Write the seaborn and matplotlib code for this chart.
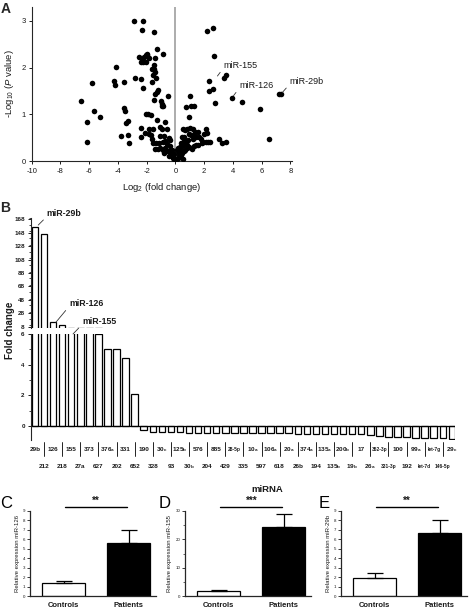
import pandas as pd
import seaborn as sns
from matplotlib import pyplot as plt
from matplotlib.ticker import MultipleLocator

# ---- panel A: volcano plot ----
log2_fc = [-2.89, -2.22, -2.33, -1.52, -1.25, -2.00, -2.07, -1.95, -0.88, -2.50,
           -2.34, -2.18, -1.85, -1.43, -2.40, -2.22, -2.05, -1.50, -4.12, -1.60,
           -1.52, -1.45, -5.77, -4.27, -4.20, -3.58, -2.84, -2.38, -2.26, -1.34,
           -1.62, -1.55, -1.18, -1.30, -1.40, -1.50, -1.00, -0.95, -0.90, -0.85,
           -0.50, -6.58, -5.66, -5.22, -3.58, -3.53, -6.12, -3.33, -3.42, -2.03,
           -1.87, -1.69, -1.27, -0.69, -2.38, -1.85, -1.57, -1.04, -0.90, -0.55,
           -3.76, -3.30, -2.42, -1.85, -1.69, -1.10, -0.78, -3.26, -6.17, -1.53,
           -1.34, -1.11, -0.88, -0.72, -0.42, -0.37, -1.39, -1.22, -1.04, -0.88,
           -0.72, -0.65, -0.53, -0.42, -0.76, -0.30, -0.23, -0.18, -0.14, -0.07,
           -0.02, -0.35, -0.58, -1.60, -2.10, -0.25, -0.12, -0.45,
           2.17, 2.59, 2.66, 3.51, 3.39, 2.33, 2.63, 2.33, 2.75, 3.97,
           4.67, 5.89, 7.20, 7.34, 6.51, 1.04, 0.76, 1.08, 1.32, 0.97,
           0.55, 0.69, 0.83, 1.02, 1.20, 1.39, 1.57, 2.12, 2.22, 0.44,
           0.62, 0.92, 1.09, 1.32, 1.44, 1.67, 1.78, 1.95, 2.24, 2.40,
           3.05, 3.28, 3.51, 1.55, 1.85, 2.13, 1.16, 1.32, 1.44, 0.97,
           0.81, 0.12, 0.21, 0.32, 0.46, 0.55, 0.74, 0.39, 0.30, 0.37,
           0.48, 0.58, 0.65, 0.05, 0.10, 0.16, 0.22, 0.28, 0.42, 0.60,
           2.00, 0.90, 1.20, 0.50, 0.80]
neg_log10_p = [3.00, 3.00, 2.81, 2.76, 2.39, 2.30, 2.27, 2.27, 2.29, 2.22,
               2.18, 2.22, 2.20, 2.20, 2.12, 2.12, 2.12, 2.05, 2.02, 1.96,
               1.96, 1.91, 1.68, 1.72, 1.63, 1.70, 1.78, 1.76, 1.57, 1.77,
               1.70, 1.84, 1.53, 1.48, 1.44, 1.30, 1.28, 1.23, 1.19, 1.17,
               1.40, 1.28, 1.08, 0.95, 1.13, 1.07, 0.84, 0.86, 0.81, 1.02,
               1.00, 0.99, 0.88, 0.83, 0.72, 0.70, 0.70, 0.74, 0.70, 0.70,
               0.54, 0.56, 0.51, 0.58, 0.56, 0.53, 0.54, 0.40, 0.42, 0.39,
               0.39, 0.40, 0.42, 0.44, 0.49, 0.46, 0.26, 0.26, 0.28, 0.24,
               0.28, 0.21, 0.21, 0.21, 0.17, 0.17, 0.13, 0.10, 0.06, 0.04,
               0.03, 0.32, 0.36, 0.48, 0.60, 0.24, 0.15, 0.12,
               2.79, 2.84, 2.25, 1.84, 1.78, 1.72, 1.54, 1.49, 1.25, 1.36,
               1.26, 1.11, 1.43, 1.43, 0.48, 1.39, 1.15, 1.18, 1.18, 0.94,
               0.70, 0.66, 0.70, 0.72, 0.70, 0.62, 0.63, 0.69, 0.61, 0.52,
               0.51, 0.58, 0.56, 0.54, 0.52, 0.52, 0.47, 0.42, 0.42, 0.42,
               0.48, 0.38, 0.41, 0.34, 0.38, 0.42, 0.26, 0.33, 0.35, 0.31,
               0.35, 0.24, 0.28, 0.31, 0.33, 0.35, 0.38, 0.40, 0.10, 0.14,
               0.17, 0.21, 0.25, 0.02, 0.05, 0.08, 0.12, 0.17, 0.23, 0.44,
               0.58, 0.45, 0.48, 0.05, 0.28]

# ---- panel B: fold change per miRNA ----
mirna = ['29b', '212', '126', '218', '155', '27a', '373', '627', '376a', '202',
         '331', '652', '190', '328', '30c', '93', '125b', '30b', '576', '204',
         '885', '429', '28-5p', '335', '10a', '597', '106a', '618', '20a', '26b',
         '374a', '194', '135a', '135b', '200b', '19b', '17', '26a', '362-3p', '331-3p',
         '100', '192', '99a', 'let-7d', 'let-7g', '146-5p', '29c']
fold_change = [157, 145.5, 14.5, 10, 6.5, 6.4, 6.2, 6.0, 5.0, 5.0,
               4.4, 2.05, -0.30, -0.40, -0.42, -0.42, -0.43, -0.44, -0.45, -0.45,
               -0.46, -0.46, -0.47, -0.47, -0.48, -0.48, -0.48, -0.49, -0.49, -0.50,
               -0.50, -0.51, -0.52, -0.52, -0.53, -0.54, -0.55, -0.58, -0.65, -0.70,
               -0.72, -0.75, -0.76, -0.78, -0.80, -0.82, -0.85]
mirna_text = ['29b', '212', '126', '218', '155', '27a', '373', '627', r'376$_\mathregular{a}$', '202',
              '331', '652', '190', '328', r'30$_\mathregular{c}$', '93', r'125$_\mathregular{b}$', r'30$_\mathregular{b}$', '576', '204',
              '885', '429', '28-5p', '335', r'10$_\mathregular{a}$', '597', r'106$_\mathregular{a}$', '618', r'20$_\mathregular{a}$', '26b',
              r'374$_\mathregular{a}$', '194', r'135$_\mathregular{a}$', r'135$_\mathregular{b}$', r'200$_\mathregular{b}$', r'19$_\mathregular{b}$', '17', r'26$_\mathregular{a}$', '362-3p', '331-3p',
              '100', '192', r'99$_\mathregular{a}$', 'let-7d', 'let-7g', '146-5p', r'29$_\mathregular{c}$']
small_labels = ['362-3p', '331-3p', 'let-7g', 'let-7d', '28-5p', '146-5p']

# ---- panels C-E: relative expression ----
groups = ['Controls', 'Patients']
mir126_mean = [1.33, 5.6]
mir126_sem = [0.24, 1.4]
mir155_mean = [1.74, 24.5]
mir155_sem = [0.36, 4.6]
mir29b_mean = [1.92, 6.7]
mir29b_sem = [0.56, 1.32]

sns.set_style("ticks")
plt.rcParams['font.family'] = ['Liberation Sans', 'DejaVu Sans']
plt.rcParams['axes.unicode_minus'] = False
plt.rcParams['mathtext.fontset'] = 'custom'
plt.rcParams['mathtext.rm'] = 'Liberation Sans'
plt.rcParams['mathtext.it'] = 'Liberation Sans:italic'
plt.rcParams['mathtext.bf'] = 'Liberation Sans:bold'

W, H = 474, 609
fig = plt.figure(figsize=(W / 100, H / 100), dpi=100)


def box(l, t, r, b):
    return [l / W, 1 - b / H, (r - l) / W, (b - t) / H]


ink = '#1a1a1a'

# A
axA = fig.add_axes(box(31.7, 6.7, 291.7, 161.3))
df_a = pd.DataFrame({'log2fc': log2_fc, 'p': neg_log10_p})
axA.axvline(0, color='#a6a6a6', lw=1.3, zorder=0)
sns.scatterplot(data=df_a, x='log2fc', y='p', color='black', s=16, linewidth=0, ax=axA, zorder=3)
axA.set_xlim(-10, 8.1)
axA.set_ylim(0, 3.3)
axA.set_xticks(range(-10, 9, 2))
axA.set_yticks([0, 1, 2, 3])
axA.tick_params(labelsize=5.5, length=2.5, width=0.7, pad=2, colors=ink)
axA.set_xlabel(r'Log$_2$ (fold change)', fontsize=6.8, color=ink, labelpad=5)
axA.set_ylabel(r'-Log$_{10}$ ($\mathit{P}$ value)', fontsize=6.8, color=ink, labelpad=4)
sns.despine(ax=axA)
for s in axA.spines.values():
    s.set_linewidth(0.8)
for txt, xy, xyt in [('miR-155', (2.93, 1.82), (3.35, 2.05)),
                     ('miR-126', (4.05, 1.40), (4.45, 1.62)),
                     ('miR-29b', (7.45, 1.47), (7.95, 1.70))]:
    axA.annotate(txt, xy=xy, xytext=xyt, fontsize=6.5, color=ink, ha='left', va='center',
                 annotation_clip=False,
                 arrowprops=dict(arrowstyle='-', color='#333333', lw=0.6, relpos=(0, 0.2),
                                 shrinkA=0, shrinkB=0))

# B (broken axis)
axU = fig.add_axes(box(31, 218, 455, 327.5))
axL = fig.add_axes(box(31, 333.5, 455, 440))
df_b = pd.DataFrame({'mirna': mirna, 'fc': fold_change})
for ax in (axU, axL):
    sns.barplot(data=df_b, x='mirna', y='fc', color='white', saturation=1,
                edgecolor='black', linewidth=0.9, width=0.72, ax=ax)
    ax.set_xlim(-0.44, 46.35)
    ax.set_xlabel('')
    ax.set_ylabel('')
    ax.set_xticks([])
    sns.despine(ax=ax, bottom=True)
    ax.spines['left'].set_linewidth(0.8)
    ax.tick_params(axis='y', labelsize=4.5, length=2.5, width=0.7, pad=2, colors=ink)
    ax.tick_params(axis='y', which='minor', length=1.3, width=0.6)
axU.set_ylim(6.8, 170)
axU.set_yticks(range(8, 169, 20))
axU.yaxis.set_minor_locator(MultipleLocator(10))
axL.set_ylim(-0.92, 6.03)
axL.set_yticks([0, 2, 4, 6])
axL.yaxis.set_minor_locator(MultipleLocator(1))
for ax in (axU, axL):
    for lab in ax.get_yticklabels():
        lab.set_fontweight('bold')
axL.axhline(0, color='black', lw=0.9)

trans = axL.get_xaxis_transform()
for i, t in enumerate(mirna_text):
    y = -0.106 if i % 2 == 0 else -0.266
    fs = 3.5 if mirna[i] in small_labels else 4.6
    axL.text(i, y, t, transform=trans, ha='center', va='baseline', fontsize=fs,
             fontweight='bold', color=ink, clip_on=False)
for i in range(1, len(mirna), 2):
    axL.plot([i, i], [-0.02, -0.15], transform=trans, color='black', lw=0.6, clip_on=False)

axU.annotate('miR-29b', xy=(0.36, 159.5), xytext=(1.29, 176), fontsize=6.3, fontweight='bold',
             color=ink, ha='left', va='center', annotation_clip=False,
             arrowprops=dict(arrowstyle='-', color='#333333', lw=0.6, relpos=(0, 0.2),
                             shrinkA=0, shrinkB=0))
axU.annotate('miR-126', xy=(2.3, 14.5), xytext=(3.75, 42), fontsize=6.3, fontweight='bold',
             color=ink, ha='left', va='center', annotation_clip=False,
             arrowprops=dict(arrowstyle='-', color='#333333', lw=0.6, relpos=(0, 0.2),
                             shrinkA=0, shrinkB=0))
axL.annotate('miR-155', xy=(4.2, 6.0), xytext=(5.18, 15), textcoords=axU.transData,
             fontsize=6.3, fontweight='bold', color=ink, ha='left', va='center',
             annotation_clip=False,
             arrowprops=dict(arrowstyle='-', color='#333333', lw=0.6, relpos=(0, 0.2),
                             shrinkA=0, shrinkB=0))

fig.text(10 / W, 1 - 330 / H, 'Fold change', rotation=90, ha='center', va='center',
         fontsize=7, fontweight='bold', color=ink)
fig.text(267 / W, 1 - 490 / H, 'miRNA', ha='center', va='center',
         fontsize=6.8, fontweight='bold', color=ink)

# C, D, E
panels = [(30, 0.5, mir126_mean, mir126_sem, 9, 1, 'Relative expression miR-126', '**', 'C'),
          (185, 159, mir155_mean, mir155_sem, 30, 10, 'Relative expression miR-155', '***', 'D'),
          (341, 319, mir29b_mean, mir29b_sem, 9, 1, 'Relative expression miR-29b', '**', 'E')]
for left, lx, mean, sem, top, step, ylab, stars, letter in panels:
    ax = fig.add_axes(box(left, 511, left + 126, 596))
    sns.barplot(x=groups, y=mean, hue=groups, palette=['white', 'black'], saturation=1,
                edgecolor='black', linewidth=0.9, width=0.66, legend=False, ax=ax)
    ax.errorbar([0, 1], mean, yerr=[[0, 0], sem], fmt='none', ecolor='black',
                elinewidth=0.9, capsize=6, capthick=0.9)
    ax.set_xlim(-0.52, 1.42)
    ax.set_ylim(0, top)
    ax.set_yticks(range(0, top + 1, step))
    if step > 1:
        ax.yaxis.set_minor_locator(MultipleLocator(step / 2))
    sns.despine(ax=ax)
    for s in ax.spines.values():
        s.set_linewidth(0.9)
    ax.tick_params(axis='y', labelsize=3.2, length=2, width=0.6, pad=1.5, colors=ink)
    ax.tick_params(axis='y', which='minor', length=1.2, width=0.5)
    ax.tick_params(axis='x', labelsize=5.5, length=0, pad=4, colors=ink)
    for lab in ax.get_xticklabels():
        lab.set_fontweight('bold')
    ax.set_ylabel(ylab, fontsize=4.3, color=ink, labelpad=2)
    ax.plot([0.02, 0.98], [top * 1.05] * 2, color='black', lw=1, clip_on=False)
    ax.text(0.5, top * 1.06, stars, ha='center', va='bottom', fontsize=7,
            fontweight='bold', color=ink, clip_on=False)
    fig.text(lx / W, 1 - 496 / H, letter, ha='left', va='top', fontsize=12, color='black')

fig.text(0.5 / W, 1 - 2 / H, 'A', ha='left', va='top', fontsize=10, fontweight='bold')
fig.text(0.5 / W, 1 - 201 / H, 'B', ha='left', va='top', fontsize=10, fontweight='bold')

plt.savefig('out.png', dpi=100)
